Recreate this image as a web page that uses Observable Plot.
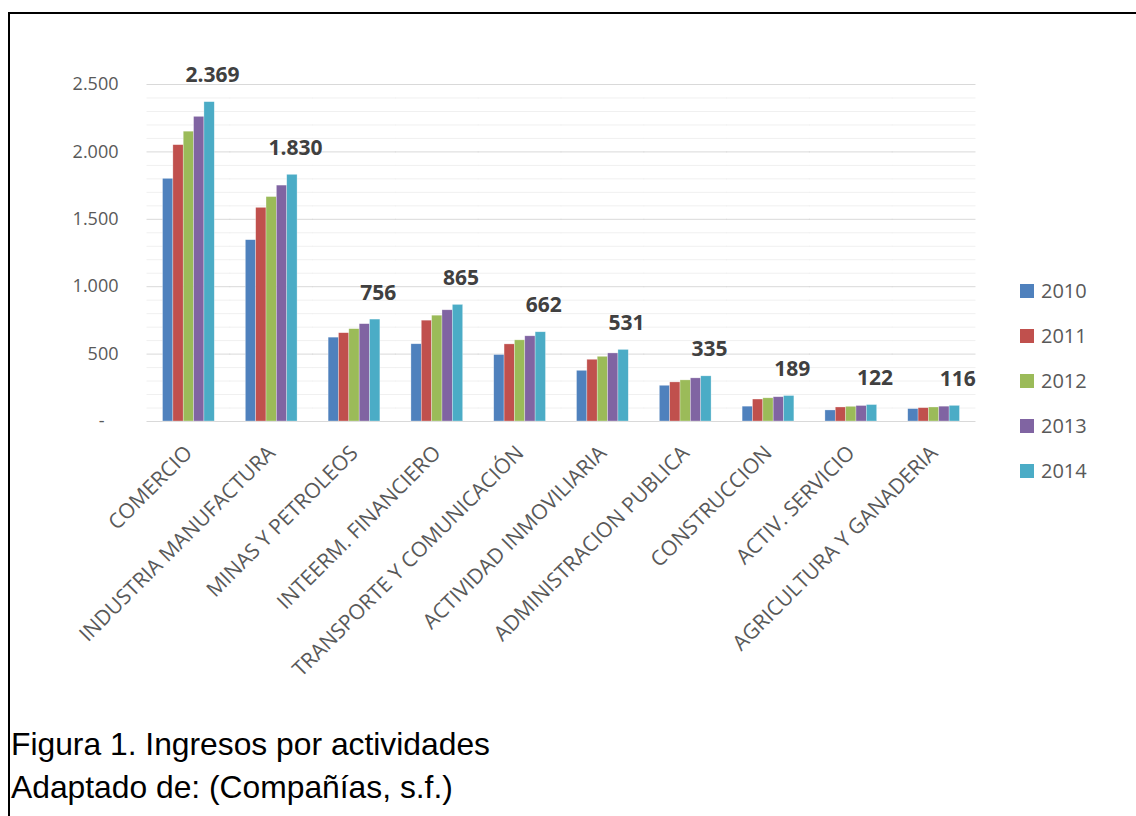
<!DOCTYPE html>
<html>
<head>
<meta charset="utf-8">
<script src="https://cdn.jsdelivr.net/npm/d3@7"></script>
<script src="https://cdn.jsdelivr.net/npm/@observablehq/plot@0.6"></script>
<style>
  html, body { margin: 0; padding: 0; background: #fff; }
  body { width: 1136px; height: 816px; position: relative; overflow: hidden; }
  #frame { position: absolute; left: 8px; top: 12px; width: 1200px; height: 900px;
           border-left: 2px solid #000; border-top: 2px solid #000; }
  #chart { position: absolute; left: 0; top: 0; }
  #legend { position: absolute; left: 1020px; top: 284px; font-family: "Open Sans", sans-serif;
            font-size: 20px; color: #595959; }
  .item { position: absolute; left: 0; height: 14px; white-space: nowrap; }
  .sw { position: absolute; left: 0; top: 0; width: 14px; height: 14px; }
  .lab { position: absolute; left: 21px; top: -7px; line-height: 28px; }
  .cap { position: absolute; left: 11px; font-family: "Liberation Sans", Arial, sans-serif;
         font-size: 31.8px; line-height: 30px; color: #000; white-space: nowrap; }
</style>
</head>
<body>
<div id="frame"></div>
<div id="chart"></div>
<div id="legend"></div>
<div class="cap" style="top:729px">Figura 1. Ingresos por actividades</div>
<div class="cap" style="top:772px">Adaptado de: (Compañías, s.f.)</div>
<script>
// Activity sectors, in display order
const categories = [
  "COMERCIO", "INDUSTRIA MANUFACTURA", "MINAS Y PETROLEOS", "INTEERM. FINANCIERO",
  "TRANSPORTE Y COMUNICACIÓN", "ACTIVIDAD INMOVILIARIA", "ADMINISTRACION PUBLICA",
  "CONSTRUCCION", "ACTIV. SERVICIO", "AGRICULTURA Y GANADERIA"
];
const years = ["2010", "2011", "2012", "2013", "2014"];
const colors = ["#4F81BD", "#C0504D", "#9BBB59", "#8064A2", "#4BACC6"];

// Income per sector, one array per year (same order as categories)
const v2010 = [1800, 1345, 622, 573, 493, 376, 265, 110, 82, 92];
const v2011 = [2050, 1585, 655, 748, 572, 458, 290, 163, 104, 99];
const v2012 = [2150, 1665, 685, 785, 602, 480, 305, 172, 109, 104];
const v2013 = [2260, 1750, 722, 825, 632, 505, 320, 180, 115, 110];
const v2014 = [2369, 1830, 756, 865, 662, 531, 335, 189, 122, 116];

const yTicks = [0, 500, 1000, 1500, 2000, 2500];

const series = [v2010, v2011, v2012, v2013, v2014];
const rows = [];
categories.forEach((cat, i) => {
  years.forEach((yr, j) => rows.push({cat, year: yr, value: series[j][i]}));
});
const last = rows.filter(d => d.year === "2014");

const es = d3.formatLocale({decimal: ",", thousands: ".", grouping: [3], currency: ["", ""]});
const fmt = es.format(",d");

const minor = d3.range(0, 2501, 100).filter(v => v % 500 !== 0);

// Frame geometry
const W = 1136, H = 690, mL = 147, mR = 161, mT = 84, mB = 269;
const padIn = 0.375;
const step = (W - mL - mR) / categories.length;
const halfGap = step * padIn / 2;
// Grid rules are drawn per facet and stretched over the gaps so they join up
const gridInset = -halfGap - 0.5;

const chart = Plot.plot({
  width: W,
  height: H,
  marginLeft: mL,
  marginRight: mR,
  marginTop: mT,
  marginBottom: mB,
  style: {fontFamily: "Open Sans, sans-serif", background: "transparent"},
  fx: {domain: categories, paddingInner: padIn, paddingOuter: padIn / 2, round: false, label: null},
  x: {domain: years, padding: 0, round: false, axis: null},
  y: {domain: [0, 2500], label: null},
  color: {domain: years, range: colors},
  marks: [
    Plot.ruleY(minor, {stroke: "#f0f0f0", strokeWidth: 1, insetLeft: gridInset, insetRight: gridInset}),
    Plot.ruleY(yTicks, {stroke: "#d9d9d9", strokeWidth: 1, insetLeft: gridInset, insetRight: gridInset}),
    // the y axis sits on the first facet, so its padding also covers the outer gap
    Plot.axisY({
      ticks: yTicks, tickSize: 0, tickPadding: halfGap + 29, fontSize: 18, fill: "#595959", label: null,
      tickFormat: d => d === 0 ? "-\u00a0\u00a0\u00a0" : fmt(d)
    }),
    Plot.axisFx({
      anchor: "bottom", tickRotate: -45, tickSize: 0, tickPadding: 28, dx: 0,
      fontSize: 21, fill: "#595959", label: null
    }),
    Plot.barY(rows, {fx: "cat", x: "year", y: "value", fill: "year", stroke: "#ffffff", strokeOpacity: 0.5, strokeWidth: 0.6}),
    Plot.text(last, {
      fx: "cat", x: "year", y: "value", text: d => fmt(d.value),
      dy: -20, dx: 3, lineAnchor: "bottom", fontSize: 21, fontWeight: "bold", fill: "#404040"
    })
  ]
});
document.getElementById("chart").append(chart);

// Legend swatches stacked to the right of the plot
const legend = document.getElementById("legend");
years.forEach((yr, i) => {
  const item = document.createElement("div");
  item.className = "item";
  item.style.top = (i * 45) + "px";
  item.innerHTML = `<div class="sw" style="background:${colors[i]}"></div><div class="lab">${yr}</div>`;
  legend.append(item);
});
</script>
</body>
</html>
